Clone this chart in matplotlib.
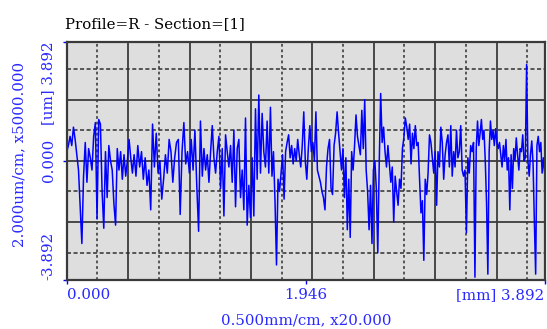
import numpy as np
import matplotlib
matplotlib.use("Agg")
import matplotlib.pyplot as plt

# scale settings of the trace
X_MAX = 3.892          # mm
Y_MAX = 3.892          # um
X_DIV = 0.5            # mm per grid division
Y_DIV = 2.0            # um per grid division

TITLE = "Profile=R - Section=[1]"
X_LABEL = "0.500mm/cm, x20.000"
Y_LABEL = "2.000um/cm, x5000.000"
x_ticks = [0.0, 1.946, 3.892]
x_tick_labels = ["0.000", "1.946", "[mm] 3.892"]
y_ticks = [-3.892, 0.0, 3.892]
y_tick_labels = ["-3.892", "0.000", "[um] 3.892"]

# profile heights (um), one list per stretch of the section
breaks_mm = [0.0, 0.549, 1.104, 1.659, 2.214, 2.769, 3.324, 3.892]
seg_1 = [0.3, 0.5, 0.8, 0.5, 1.1, 0.7, 0.2, -0.3, -1.5, -2.7, -0.5, 0.6, -0.7, 0.4,
         0.1, -0.3, 0.8, 1.25, -1.9, 1.35, 1.2, -1.0, -2.2, 0.3, -1.2, 0.5, 0.0, -0.3,
         -1.4, -2.1, 0.4, -0.3, 0.3, -0.6, 0.2, -0.5, 0.0, 0.7, 0.1, -0.4]
seg_2 = [0.2, -0.5, 0.5, -0.2, 0.3, -0.6, 0.1, -0.8, -0.3, -1.6, 1.2, -0.2, 0.9, -0.4,
         0.0, -1.25, -0.6, 0.2, -0.4, 0.7, 0.3, -0.7, 0.1, 0.6, 0.7, -1.75, 0.3, 1.25,
         -0.1, 0.3, -0.4, 0.7, -0.3, 1.0, -0.8, -2.3, 1.3]
seg_3 = [-0.5, 0.4, -0.3, 0.2, -0.7, 0.3, 1.15, 0.1, -0.4, 0.3, 0.8, -0.9, 0.4, -1.8,
         0.85, 0.3, -0.2, 0.5, -0.7, 1.0, -1.5, 0.4, 0.7, -1.2, -0.3, -1.6, 1.4, -2.1,
         -0.8, -1.85, 0.1, -1.8, 1.7, -0.6, 2.15, -0.4, 1.55, 0.3, -0.2, 1.3, -0.4]
seg_4 = [1.75, -0.5, 0.3, -1.3, -3.4, -0.6, -1.0, -0.4, 0.2, -1.25, 0.3, 0.6, 0.85, 0.1,
         0.5, -0.1, 0.4, 0.0, 0.7, 0.2, -0.2, 0.5, 1.6, 0.0, -0.6, 0.4, 1.15, 0.3, 0.6,
         0.0, 1.6, -0.3, -0.5, -0.7, -1.0, -1.2, -1.6, -0.2, 0.4, 0.7, -0.9, -1.1, 0.5,
         0.9, 1.6]
seg_5 = [0.9, 0.3, -0.3, 0.4, -1.2, 0.1, -2.25, -0.6, -2.5, 0.3, -0.3, 0.5, 1.5, 0.8,
         0.5, 0.2, 1.65, 0.4, 2.0, -0.3, -1.0, -2.25, -0.8, -2.7, -0.3, 0.0, -0.9, -3.0,
         -0.1, 2.2, 0.6, 1.1, 0.3, -0.2, 0.5, -0.1, -0.7, -0.2, -2.0, -0.5, -1.0, -1.45,
         -0.6, -0.9, 0.4, 0.75, 1.4]
seg_6 = [1.1, 0.7, 1.2, -0.1, 0.9, 0.4, 1.15, 0.5, 0.6, -0.6, -1.7, -1.3, -3.25, -0.6,
         -1.1, -0.4, 0.85, 0.6, 0.1, -0.4, 0.3, -1.45, 0.3, -0.2, 1.1, 0.6, -0.6, 0.2,
         0.6, 0.85, -0.2, 1.15, -0.5, 0.3, -0.2, 1.0, 0.1, 0.3, 1.15, -0.3, -0.5, -0.3,
         -2.35, 0.1, -0.4, 0.5, 0.3, 0.6]
seg_7 = [-3.8, 0.4, 1.3, 0.5, 0.9, 1.35, 0.7, 1.0, 0.0, -1.4, -3.7, 0.3, 1.3, 0.7, 1.0,
         0.5, 1.05, 0.6, 0.4, 0.6, 0.2, -0.2, 0.5, 0.0, 0.7, -0.3, 0.1, -1.6, 0.2, -0.9,
         0.4, 0.0, 0.75, 0.2, -0.3, 0.4, 0.3, 0.85, 0.0, 0.1, 3.15, 0.0, -0.5, 0.2, 0.65,
         -0.1, -2.0, -3.7, 0.5, 0.8, 0.3, 0.6, -0.4, 0.1, -0.4]
segments = [seg_1, seg_2, seg_3, seg_4, seg_5, seg_6, seg_7]

xs, ys = [], []
for i, seg in enumerate(segments):
    last = i == len(segments) - 1
    xs.append(np.linspace(breaks_mm[i], breaks_mm[i + 1], len(seg), endpoint=last))
    ys.append(np.array(seg))
x = np.concatenate(xs)
y = np.concatenate(ys)

BLUE = "#0000ff"
TXT_BLUE = "#2a2aff"
plt.rcParams["font.family"] = "DejaVu Serif"
plt.rcParams["font.size"] = 10.8
plt.rcParams["lines.scale_dashes"] = False

fig = plt.figure(figsize=(5.47, 3.29), dpi=100)
ax = fig.add_axes([66.7 / 547, 1 - 280 / 329, (544.7 - 66.7) / 547, (280 - 41.7) / 329])
ax.set_facecolor("#dedede")
ax.set_xlim(0, X_MAX)
ax.set_ylim(-Y_MAX, Y_MAX)

# grid: solid at every division, dashed half way between
for gx in np.arange(X_DIV, X_MAX, X_DIV):
    ax.axvline(gx, color="#3c3c3c", lw=1.3, zorder=1)
for gx in np.arange(X_DIV / 2, X_MAX, X_DIV):
    ax.axvline(gx, color="#303030", lw=1.1, ls=(0, (2.0, 2.0)), zorder=1)
for gy in np.arange(-Y_DIV, Y_MAX, Y_DIV):
    ax.axhline(gy, color="#3c3c3c", lw=1.3, zorder=1)
for gy in np.arange(-Y_DIV * 1.5, Y_MAX, Y_DIV):
    ax.axhline(gy, color="#303030", lw=1.1, ls=(0, (2.9, 1.8)), zorder=1)

ax.plot(x, y, color=BLUE, lw=1.1, zorder=3)

for s in ax.spines.values():
    s.set_color("#3a3a3a")
    s.set_linewidth(1.6)
    s.set_zorder(4)

ax.set_xticks(x_ticks)
ax.set_xticklabels(x_tick_labels, color=TXT_BLUE)
ax.set_yticks(y_ticks)
ax.set_yticklabels(y_tick_labels, color=TXT_BLUE, rotation=90)
ax.tick_params(axis="both", direction="out", length=3, width=1, colors=BLUE)
ax.tick_params(axis="x", pad=3, labelcolor=TXT_BLUE)
ax.tick_params(axis="y", pad=5, labelcolor=TXT_BLUE)

xl = ax.get_xticklabels()
xl[0].set_ha("left")
xl[2].set_ha("right")
yl = ax.get_yticklabels()
yl[0].set_va("bottom")
yl[1].set_va("center")
yl[2].set_va("top")

fig.text(65 / 547, 1 - 24 / 329, TITLE, color="black", ha="left", va="center")
fig.text(19 / 547, 1 - 154 / 329, Y_LABEL, color=TXT_BLUE, rotation=90,
         ha="center", va="center")
fig.text(306 / 547, 1 - 320 / 329, X_LABEL, color=TXT_BLUE, ha="center", va="center")

fig.savefig("out.png", dpi=100)
